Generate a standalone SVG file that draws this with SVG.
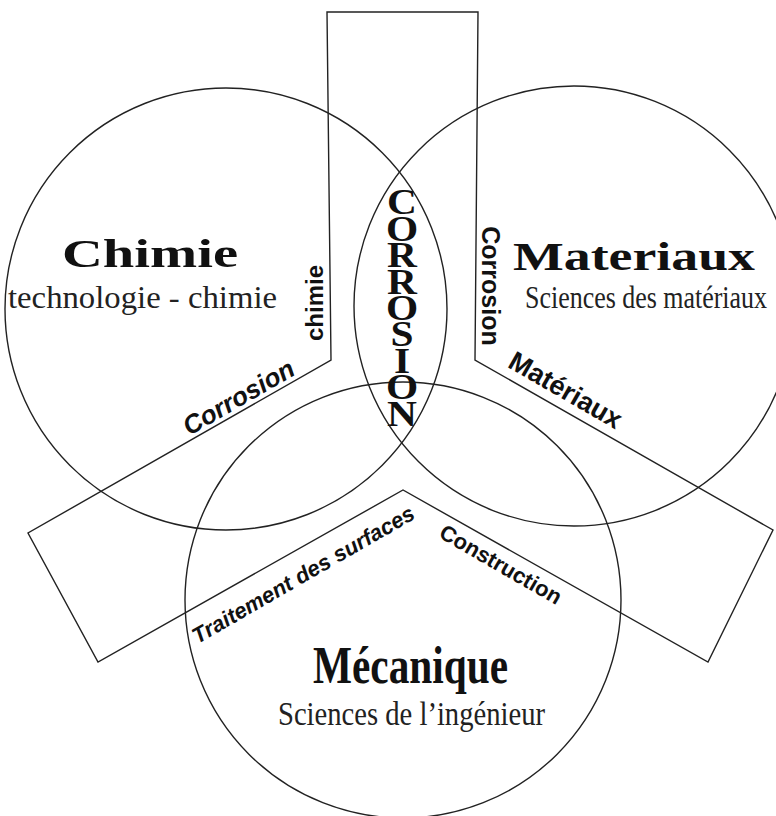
<svg xmlns="http://www.w3.org/2000/svg" width="776" height="816" viewBox="0 0 776 816">
<style>
.ln{fill:none;stroke:#222;stroke-width:1.4}
.big{font-family:"Liberation Serif","Times New Roman",serif;font-weight:bold;fill:#111}
.sub{font-family:"Liberation Serif","Times New Roman",serif;fill:#222}
.lab{font-family:"Liberation Sans",Arial,sans-serif;font-weight:bold;fill:#111}
.it{font-style:italic}
.cor{font-family:"Liberation Serif","Times New Roman",serif;font-weight:bold;fill:#111;font-size:36px;writing-mode:vertical-rl;text-orientation:upright;letter-spacing:-13.5px}
</style>
<rect width="776" height="816" fill="#fff"/>
<g id="chimie">
<circle class="ln" cx="226" cy="309" r="221"/>
<text class="big" x="62" y="267" font-size="41" textLength="176" lengthAdjust="spacingAndGlyphs">Chimie</text>
<text class="sub" font-size="28" textLength="269" lengthAdjust="spacingAndGlyphs" transform="translate(8,308) scale(1,1.1)">technologie - chimie</text>
</g>
<g id="materiaux">
<circle class="ln" cx="574" cy="306" r="220"/>
<text class="big" x="513" y="270" font-size="40" textLength="242" lengthAdjust="spacingAndGlyphs">Materiaux</text>
<text class="sub" font-size="27" textLength="242" lengthAdjust="spacingAndGlyphs" transform="translate(525,308) scale(1,1.14)">Sciences des matériaux</text>
</g>
<g id="mecanique">
<circle class="ln" cx="403" cy="600" r="218"/>
<text class="big" x="313" y="683" font-size="53" textLength="195" lengthAdjust="spacingAndGlyphs">Mécanique</text>
<text class="sub" x="278" y="725" font-size="33" textLength="267" lengthAdjust="spacingAndGlyphs">Sciences de l’ingénieur</text>
</g>
<g id="connectors">
<path class="ln" d="M327,12 L478,12 L475,360 L773,530 L708,662 L403,490 L98,662 L28,533 L331,360 Z"/>
</g>
<g id="corrosion">
<text class="cor" x="0" y="182" transform="translate(402,0) scale(1.15,1)">CORROSION</text>
</g>
<g id="labels">
<text class="lab" font-size="24" text-anchor="middle" transform="translate(323,303) rotate(-90)">chimie</text>
<text class="lab it" font-size="26" text-anchor="middle" transform="translate(243,405) rotate(-30)">Corrosion</text>
<text class="lab" font-size="25" text-anchor="middle" transform="translate(482,286) rotate(90)">Corrosion</text>
<text class="lab" font-size="27" text-anchor="middle" transform="translate(561,398) rotate(30)">Matériaux</text>
<text class="lab it" font-size="22" text-anchor="middle" transform="translate(307,581) rotate(-30)">Traitement des surfaces</text>
<text class="lab" font-size="22" text-anchor="middle" transform="translate(497,571) rotate(30)">Construction</text>
</g>
</svg>
